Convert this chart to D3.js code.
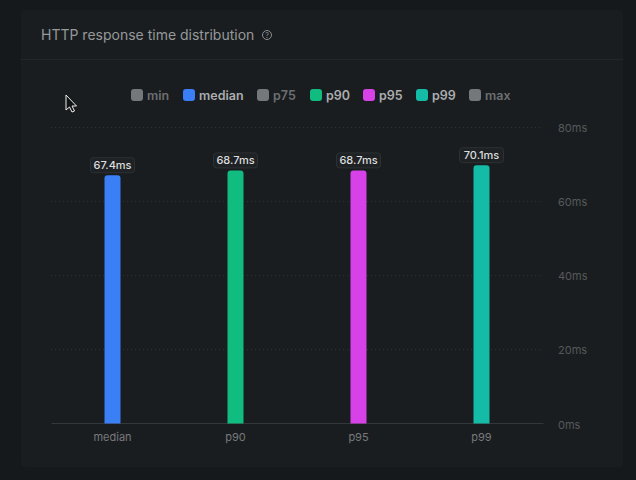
<!DOCTYPE html>
<html>
<head>
<meta charset="utf-8">
<script src="https://cdnjs.cloudflare.com/ajax/libs/d3/7.8.5/d3.min.js"></script>
<style>
  html, body { margin: 0; padding: 0; background: #16191b; overflow: hidden; }
  text { font-family: Inter, "Noto Sans", sans-serif; }
</style>
</head>
<body>
<svg id="chart" width="636" height="480"></svg>
<script>
// chart values
const categories = ["median", "p90", "p95", "p99"];
const values = [67.4, 68.7, 68.7, 70.1];
const barColors = ["#3b7ff6", "#10bc7f", "#d642e8", "#14bca8"];
const yTicks = [0, 20, 40, 60, 80];
const legendNames = ["min", "median", "p75", "p90", "p95", "p99", "max"];
const legendColors = ["#75787b", "#3b7ff6", "#75787b", "#10bc7f", "#d642e8", "#14bca8", "#75787b"];
const legendOn = [false, true, false, true, true, true, false];
const legendX = [131, 183, 257, 310, 363, 416, 469];

const svg = d3.select("#chart");

const x = d3.scaleBand().domain(categories).range([51, 543]);
const y = d3.scaleLinear().domain([0, 80]).range([423.5, 127]);

// card and header
svg.append("rect")
  .attr("x", 21).attr("y", 10).attr("width", 602).attr("height", 457)
  .attr("rx", 4)
  .attr("fill", "#1a1d1f");

svg.append("line")
  .attr("x1", 21).attr("x2", 623).attr("y1", 59.5).attr("y2", 59.5)
  .attr("stroke", "#222628");

svg.append("text")
  .attr("x", 41).attr("y", 40)
  .attr("font-size", 14).attr("font-weight", 400)
  .attr("fill", "#96999b")
  .text("HTTP response time distribution");

// help icon
const help = svg.append("g").attr("transform", "translate(267,35)");
help.append("circle").attr("r", 4.5).attr("fill", "none").attr("stroke", "#8b8e90").attr("stroke-width", 1);
help.append("text")
  .attr("text-anchor", "middle").attr("y", 2.6)
  .attr("font-size", 7).attr("fill", "#8b8e90")
  .text("?");

// legend
const legend = svg.append("g").selectAll("g")
  .data(legendNames)
  .join("g")
  .attr("transform", (d, i) => "translate(" + legendX[i] + ",89)");

legend.append("rect")
  .attr("width", 12).attr("height", 12).attr("rx", 3)
  .attr("fill", (d, i) => legendColors[i]);

legend.append("text")
  .attr("x", 16).attr("y", 11)
  .attr("font-size", 12.5).attr("font-weight", 600)
  .attr("fill", (d, i) => legendOn[i] ? "#abadaf" : "#6c6f72")
  .text(d => d);

// grid lines
svg.append("g").selectAll("line")
  .data(yTicks.filter(d => d > 0))
  .join("line")
  .attr("x1", 51).attr("x2", 543)
  .attr("y1", d => Math.round(y(d)) + 0.5).attr("y2", d => Math.round(y(d)) + 0.5)
  .attr("stroke", "#303335")
  .attr("stroke-dasharray", "1 3");

// y axis on the right
const yAxis = svg.append("g")
  .attr("transform", "translate(543,1)")
  .call(d3.axisRight(y).tickValues(yTicks).tickSize(0).tickPadding(15).tickFormat(d => d + "ms"));
yAxis.select(".domain").remove();
yAxis.selectAll("text")
  .attr("font-size", 11).attr("font-family", "Inter").attr("fill", "#56595b");

// x axis
const xAxis = svg.append("g")
  .attr("transform", "translate(0,423)")
  .call(d3.axisBottom(x).tickSize(0).tickPadding(10));
xAxis.select(".domain").attr("stroke", "#34373a");
xAxis.selectAll("text")
  .attr("font-size", 11).attr("font-family", "Inter").attr("fill", "#77797c");

// bars sit a little under their value, rounded at the top
const barWidth = 16;
const barInset = 1.5;
svg.append("g").selectAll("path")
  .data(values)
  .join("path")
  .attr("fill", (d, i) => barColors[i])
  .attr("d", (d, i) => {
    const left = x(categories[i]) + x.bandwidth() / 2 - barWidth / 2;
    const top = y(d) + barInset;
    const p = d3.path();
    p.moveTo(left, y(0));
    p.lineTo(left, top + 3);
    p.arcTo(left, top, left + 3, top, 3);
    p.lineTo(left + barWidth - 3, top);
    p.arcTo(left + barWidth, top, left + barWidth, top + 3, 3);
    p.lineTo(left + barWidth, y(0));
    p.closePath();
    return p.toString();
  });

// value badges
const badge = svg.append("g").selectAll("g")
  .data(values)
  .join("g")
  .attr("transform", (d, i) => "translate(" + (x(categories[i]) + x.bandwidth() / 2) + "," + (y(d) + barInset - 10) + ")");

badge.append("rect")
  .attr("x", -22).attr("y", -7.5).attr("width", 44).attr("height", 15).attr("rx", 3)
  .attr("fill", "#1f2224").attr("stroke", "#2e3133");

badge.append("text")
  .attr("text-anchor", "middle").attr("y", 4)
  .attr("font-size", 11).attr("font-weight", 500)
  .attr("fill", "#dcdddf")
  .text(d => d + "ms");

// mouse pointer from the screen capture
svg.append("path")
  .attr("transform", "translate(66,95)")
  .attr("d", "M0,0 L0,15 L3.5,12 L6,17 L8.5,16 L6,11 L10.5,11 Z")
  .attr("fill", "#111314")
  .attr("stroke", "#efefef")
  .attr("stroke-width", 1);
</script>
</body>
</html>
